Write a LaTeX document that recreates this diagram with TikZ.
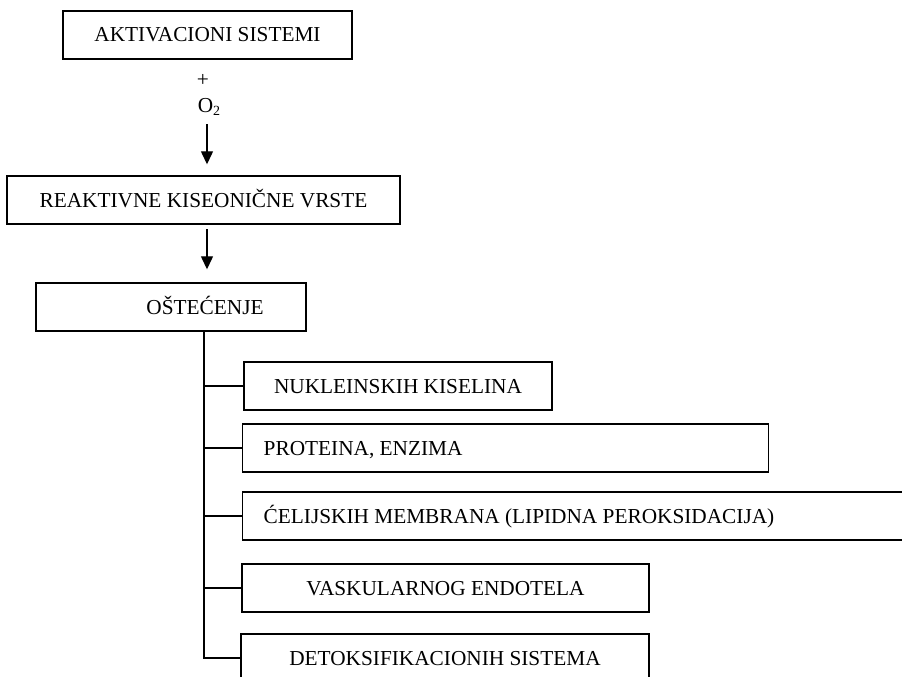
\documentclass[tikz,border=0pt]{standalone}
\usepackage{fontspec}
\setmainfont{Liberation Serif}
\usetikzlibrary{arrows.meta}
\begin{document}
\begin{tikzpicture}[x=1pt,y=-1pt,
  box/.style={draw,line width=1.4pt,inner sep=0pt,text height=14pt,text depth=0pt,font=\fontsize{21.3}{25}\selectfont},
  lbl/.style={inner sep=0pt,font=\fontsize{21.3}{25}\selectfont},
  arr/.style={line width=1.3pt,-{Triangle[width=12pt,length=13pt]}},
  link/.style={line width=1.4pt}]
\useasboundingbox (0,0) rectangle (902,677);
\clip (0,0) rectangle (902,677);
\node[box,minimum width=289pt,minimum height=48pt] (b1) at (207.5,35) {AKTIVACIONI SISTEMI};
\node[lbl] (plus) at (203,80) {+};
\node[lbl] (o2) at (209,107) {O\raisebox{-3pt}{\fontsize{14}{16}\selectfont 2}};
\node[box,minimum width=393pt,minimum height=48pt] (b2) at (203.5,200) {REAKTIVNE KISEONIČNE VRSTE};
\node[box,minimum width=270pt,minimum height=48pt] (b3) at (171,307) {};
\node[lbl,text height=14pt,text depth=0pt] (b3t) at (205,307) {OŠTEĆENJE};
\node[box,minimum width=308pt,minimum height=48pt] (n1) at (398,386) {NUKLEINSKIH KISELINA};
\node[box,anchor=west,inner xsep=21pt,text width=484pt,align=flush left,minimum height=48pt] (n2) at (242,448) {PROTEINA, ENZIMA};
\node[box,anchor=west,inner xsep=21pt,text width=636pt,align=flush left,minimum height=48pt] (n3) at (242,516) {ĆELIJSKIH MEMBRANA (LIPIDNA PEROKSIDACIJA)};
\node[box,minimum width=407pt,minimum height=48pt] (n4) at (445.5,588) {VASKULARNOG ENDOTELA};
\node[box,minimum width=408pt,minimum height=48pt] (n5) at (445,658) {DETOKSIFIKACIONIH SISTEMA};
\coordinate (a1s) at (207,124);
\draw[arr,shorten >=11pt] (a1s) -- (a1s |- b2.north);
\coordinate (a2s) at (207,229);
\draw[arr,shorten >=13pt] (a2s) -- (a2s |- b3.north);
\coordinate (tr) at (204,331);
\draw[link] (tr) |- (n1.west);
\draw[link] (tr) |- (n2.west);
\draw[link] (tr) |- (n3.west);
\draw[link] (tr) |- (n4.west);
\draw[link] (tr) |- (n5.west);
\end{tikzpicture}
\end{document}
